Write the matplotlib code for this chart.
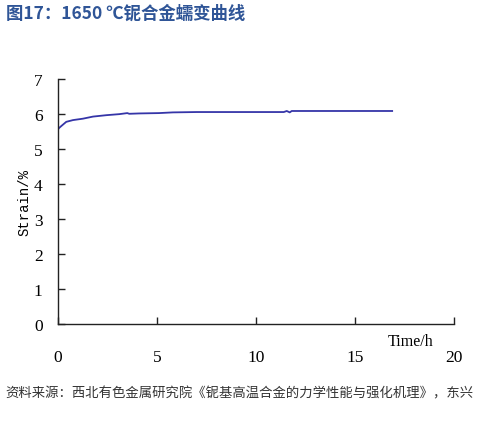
import matplotlib
matplotlib.use("Agg")
from matplotlib import pyplot as plt

# creep curve
time_h = [0, 0, 0.05, 0.17, 0.42, 0.76, 1.26, 1.77, 2.44, 3.1, 3.5, 3.6, 4.1, 5.1,
          5.8, 7.0, 9.0, 11.4, 11.55, 11.7, 11.8, 13.0, 15.0, 16.87]
strain = [0, 5.56, 5.6, 5.66, 5.78, 5.83, 5.87, 5.93, 5.97, 6.0, 6.03, 6.01, 6.02, 6.03,
          6.05, 6.06, 6.06, 6.06, 6.09, 6.05, 6.09, 6.09, 6.09, 6.09]

x_ticks = [0, 5, 10, 15, 20]
y_ticks = [0, 1, 2, 3, 4, 5, 6, 7]

title = "图17：1650 ℃铌合金蠕变曲线"
source = "资料来源：西北有色金属研究院《铌基高温合金的力学性能与强化机理》，东兴"

fig = plt.figure(figsize=(4.91, 4.31), dpi=100)
ax = fig.add_axes([0.118, 0.246, 0.807, 0.568])

ax.plot(time_h, strain, color="#3535a8", linewidth=1.3)

ax.set_xlim(0, 20)
ax.set_ylim(0, 7)
ax.set_xticks(x_ticks)
ax.set_yticks(y_ticks)
ax.spines["top"].set_visible(False)
ax.spines["right"].set_visible(False)
for side in ("left", "bottom"):
    ax.spines[side].set_color("#222222")
    ax.spines[side].set_linewidth(1.0)
ax.tick_params(direction="in", length=5, width=1, color="#222222")
ax.tick_params(axis="x", pad=18)
ax.tick_params(axis="y", pad=11)
for lab in ax.get_xticklabels() + ax.get_yticklabels():
    lab.set_fontfamily("Liberation Serif")
    lab.set_fontsize(12.5)

ax.set_ylabel("Strain/%", family="Liberation Mono", fontsize=10, labelpad=2)
ax.text(17.8, -0.5, "Time/h", family="Liberation Serif", fontsize=11.5,
        ha="center", va="center", transform=ax.transData, clip_on=False)

fig.text(0.012, 0.967, title, family=["Noto Sans CJK SC", "DejaVu Sans"],
         fontsize=12.5, fontweight="bold", color="#2f5597", va="center")
fig.text(0.01, 0.088, source, family=["Noto Sans CJK SC", "DejaVu Sans"],
         fontsize=9.6, color="#333333", va="center")

fig.savefig("out.png", dpi=100)
